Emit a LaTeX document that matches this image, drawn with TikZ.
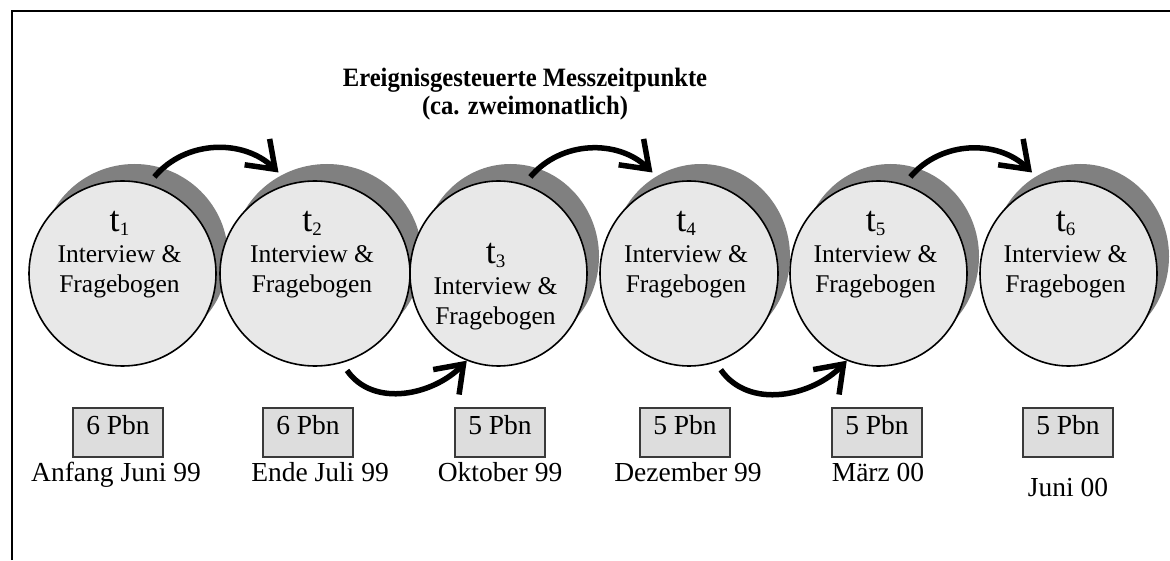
\documentclass[tikz,border=0pt]{standalone}
\usepackage{fontspec}
\setmainfont{Liberation Serif}
\usetikzlibrary{shapes.geometric,arrows.meta,calc}

\definecolor{discfill}{HTML}{E8E8E8}
\definecolor{shadowgray}{HTML}{808080}
\definecolor{boxfill}{HTML}{DDDDDD}
\definecolor{boxline}{HTML}{3A3A3A}

\newcommand\tsub[1]{\raisebox{-4pt}{\fontsize{19}{19}\selectfont #1}}
\newcommand\headline[1]{\scalebox{0.93}[1]{#1}}

\begin{document}
\begin{tikzpicture}[x=1pt,y=1pt,
  disc/.style={ellipse, draw=black, line width=1.6pt, fill=discfill,
    minimum height=185pt, inner sep=0pt},
  discshadow/.style={ellipse, fill=shadowgray, minimum height=185pt, inner sep=0pt},
  tlabel/.style={font=\fontsize{36}{36}\selectfont, anchor=base, inner sep=0pt},
  bodytext/.style={font=\fontsize{25.5}{28}\selectfont, anchor=base, inner sep=0pt},
  datetext/.style={font=\fontsize{27.5}{30}\selectfont, anchor=base, inner sep=0pt},
  titletext/.style={font=\bfseries\fontsize{26.5}{30}\selectfont, anchor=base, inner sep=0pt},
  pbox/.style={draw=boxline, line width=1.4pt, fill=boxfill,
    minimum width=90pt, minimum height=49pt, inner sep=0pt},
  arrowline/.style={line width=5.5pt, -{Straight Barb[length=25pt,width=36pt]}}
]
\useasboundingbox (0,0) rectangle (1170,560);

% open frame: top and left rules
\draw[line width=2pt] (11.5,0) -- (11.5,549) -- (1170,549);

% title
\node[titletext] (title1) at (525,473) {\headline{Ereignisgesteuerte Messzeitpunkte}};
\node[titletext] (title2) at (525,445) {\headline{(ca. zweimonatlich)}};

% measurement points: shadow, disc and inscription
\foreach \i/\x/\w/\dy in {1/122.5/187/0, 2/315/190/0, 3/498.5/177/-32,
                          4/689/178/0, 5/878.5/177/0, 6/1068.5/177/0} {
  \node[discshadow, minimum width=\w pt] (s\i) at (\x+12,303.5) {};
  \node[disc, minimum width=\w pt] (c\i) at (\x,286.5) {};
  \node[tlabel] (t\i) at (\x-3,328+\dy) {t\tsub{\i}};
  \node[bodytext] (iv\i) at (\x-3,297+\dy) {Interview \&};
  \node[bodytext] (fb\i) at (\x-3,267.5+\dy) {Fragebogen};
}

% participant boxes
\foreach \i/\x/\n in {1/118/6, 2/308/6, 3/500/5, 4/685/5, 5/877/5, 6/1068/5} {
  \node[pbox] (b\i) at (\x,127.5) {};
  \node[datetext] (bt\i) at (\x,125) {\n\ Pbn};
}

% dates
\node[datetext] (d1) at (116,78.3) {Anfang Juni 99};
\node[datetext] (d2) at (320,78.3) {Ende Juli 99};
\node[datetext] (d3) at (500,78.3) {Oktober 99};
\node[datetext] (d4) at (688,78.3) {Dezember 99};
\node[datetext] (d5) at (878,78.3) {März 00};
\node[datetext] (d6) at (1068,64) {Juni 00};

% arrows over the top
\foreach \i/\j in {1/2, 3/4, 5/6} {
  \draw[arrowline] ($(s\i.center)+(76:82pt)$) to[out=50,in=136]
    ($(s\j.center)+(120:97pt)$);
}
% arrows underneath
\foreach \i/\j in {2/3, 4/5} {
  \draw[arrowline] ($(c\i.-70)+(0,-9)$) to[out=-55,in=-134]
    (c\j.-110);
}
\end{tikzpicture}
\end{document}
